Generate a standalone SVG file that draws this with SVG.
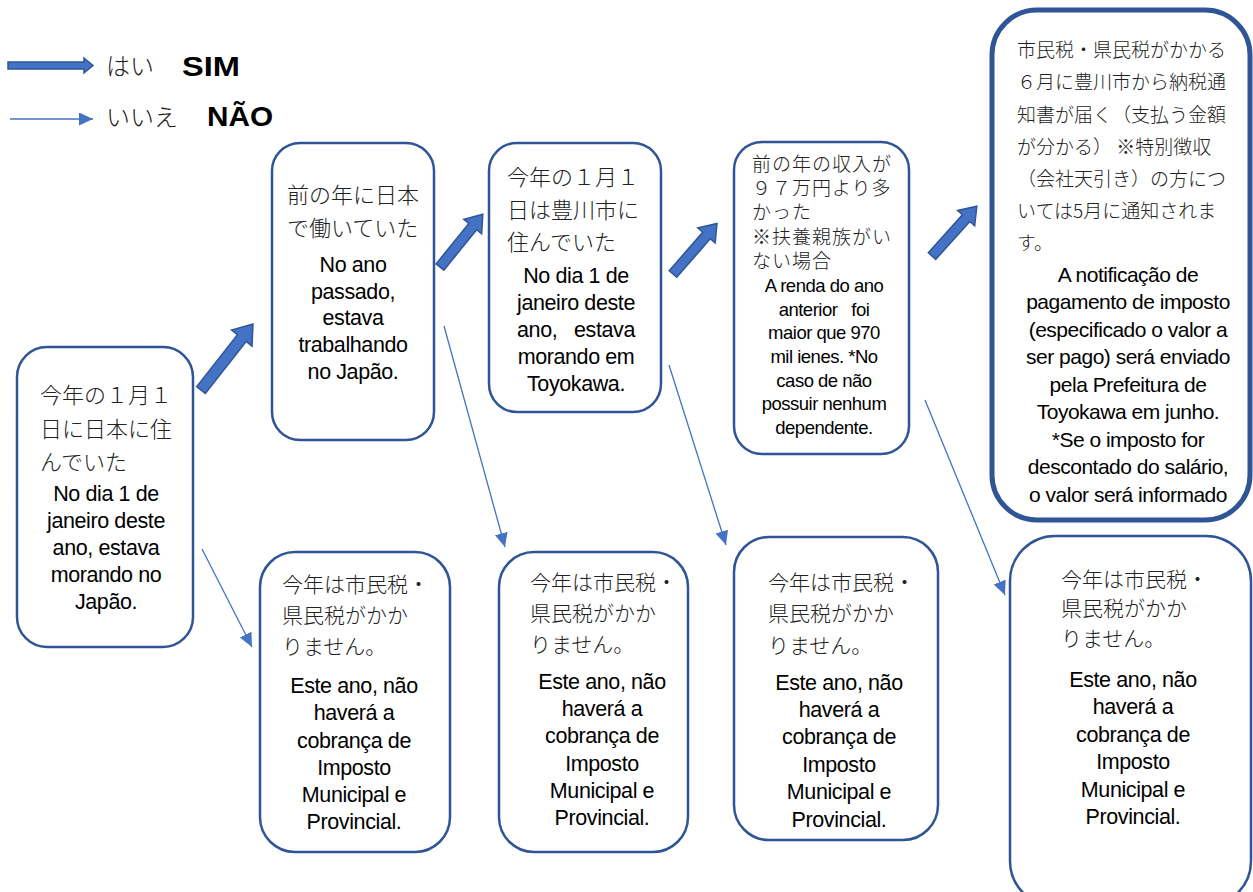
<svg xmlns="http://www.w3.org/2000/svg" width="1253" height="892" viewBox="0 0 1253 892">
<defs>
<style>
.box{fill:#fff;stroke:#2F5597;stroke-width:2.5}
.jp{font-family:"Noto Sans CJK JP",sans-serif;font-size:22px;fill:#222;font-weight:300}
.jps{font-size:19px;letter-spacing:1px}
.jpe{font-size:19px}
.jpm{font-size:21px}
.pt{font-family:"Liberation Sans",Arial,sans-serif;font-size:21.5px;fill:#000;text-anchor:middle;letter-spacing:-0.4px;white-space:pre}
.pts{font-size:18.5px;letter-spacing:-0.5px}
.pte{font-size:21px;letter-spacing:-0.5px}
.blk{fill:#4472C4;stroke:#2F5597;stroke-width:1.5}
.thin{stroke:#4472C4;stroke-width:1.3;fill:none;marker-end:url(#ah)}
.leg{font-family:"Noto Sans CJK JP",sans-serif;font-size:24px;fill:#222;font-weight:300}
.legb{font-family:"Liberation Sans",Arial,sans-serif;font-size:28px;font-weight:bold;fill:#000}
</style>
<marker id="ah" markerUnits="userSpaceOnUse" markerWidth="15" markerHeight="14" refX="14" refY="6.5" orient="auto">
<path d="M0,0 L14,6.5 L0,13 z" fill="#4472C4"/>
</marker>
</defs>
<rect width="1253" height="892" fill="#fff"/>

<g id="legend">
<polygon class="blk" points="8,62 84,62 84,58 93,65.5 84,73 84,69 8,69"/>
<text class="leg" x="106" y="75">はい</text>
<text class="legb" x="182" y="76" textLength="58" lengthAdjust="spacingAndGlyphs">SIM</text>
<line x1="10" y1="119" x2="93" y2="119" class="thin"/>
<text class="leg" x="106" y="126">いいえ</text>
<text class="legb" x="207" y="126" textLength="66" lengthAdjust="spacingAndGlyphs">NÃO</text>
</g>

<g id="connectors">
<polygon class="blk" transform="translate(201,390) rotate(-51.8)" points="0,-5.5 66,-5.5 66,-13 84,0 66,13 66,5.5 0,5.5"/>
<polygon class="blk" transform="translate(440,267) rotate(-51)" points="0,-5 52,-5 52,-11.5 68,0 52,11.5 52,5 0,5"/>
<polygon class="blk" transform="translate(673,274) rotate(-49)" points="0,-5 51,-5 51,-11.5 67,0 51,11.5 51,5 0,5"/>
<polygon class="blk" transform="translate(932,256) rotate(-48)" points="0,-5 51,-5 51,-11.5 67,0 51,11.5 51,5 0,5"/>
<line class="thin" x1="202" y1="549" x2="252" y2="647"/>
<line class="thin" x1="444" y1="326" x2="505" y2="547"/>
<line class="thin" x1="669" y1="365" x2="726" y2="545"/>
<line class="thin" x1="925" y1="400" x2="1005" y2="595"/>
</g>

<g id="nodeA">
<rect class="box" x="17" y="347" width="176" height="300" rx="30"/>
<text class="jp" x="40" y="403">今年の１月１</text>
<text class="jp" x="40" y="437">日に日本に住</text>
<text class="jp" x="40" y="470">んでいた</text>
<text class="pt" x="106" y="501">No dia 1 de</text>
<text class="pt" x="106" y="528">janeiro deste</text>
<text class="pt" x="106" y="555">ano, estava</text>
<text class="pt" x="106" y="582">morando no</text>
<text class="pt" x="106" y="609">Japão.</text>
</g>

<g id="nodeB">
<rect class="box" x="272" y="143" width="162" height="297" rx="28"/>
<text class="jp" x="287" y="203">前の年に日本</text>
<text class="jp" x="287" y="236">で働いていた</text>
<text class="pt" x="353" y="272">No ano</text>
<text class="pt" x="353" y="299">passado,</text>
<text class="pt" x="353" y="325">estava</text>
<text class="pt" x="353" y="352">trabalhando</text>
<text class="pt" x="353" y="379">no Japão.</text>
</g>

<g id="nodeC">
<rect class="box" x="489" y="143" width="172" height="269" rx="28"/>
<text class="jp" x="507" y="185">今年の１月１</text>
<text class="jp" x="507" y="218">日は豊川市に</text>
<text class="jp" x="507" y="250">住んでいた</text>
<text class="pt" x="576" y="283">No dia 1 de</text>
<text class="pt" x="576" y="310">janeiro deste</text>
<text class="pt" x="576" y="337">ano,   estava</text>
<text class="pt" x="576" y="364">morando em</text>
<text class="pt" x="576" y="391">Toyokawa.</text>
</g>

<g id="nodeD">
<rect class="box" x="734" y="142" width="175" height="312" rx="28"/>
<text class="jp jps" x="752" y="171">前の年の収入が</text>
<text class="jp jps" x="752" y="195">９７万円より多</text>
<text class="jp jps" x="752" y="219">かった</text>
<text class="jp jps" x="752" y="244">※扶養親族がい</text>
<text class="jp jps" x="752" y="268">ない場合</text>
<text class="pt pts" x="824" y="292">A renda do ano</text>
<text class="pt pts" x="824" y="316">anterior   foi</text>
<text class="pt pts" x="824" y="339">maior que 970</text>
<text class="pt pts" x="824" y="363">mil ienes. *No</text>
<text class="pt pts" x="824" y="387">caso de não</text>
<text class="pt pts" x="824" y="410">possuir nenhum</text>
<text class="pt pts" x="824" y="434">dependente.</text>
</g>

<g id="nodeE">
<rect class="box" x="992" y="10" width="258" height="510" rx="45" style="stroke-width:5"/>
<text class="jp jpe" x="1017" y="57">市民税・県民税がかかる</text>
<text class="jp jpe" x="1017" y="89">６月に豊川市から納税通</text>
<text class="jp jpe" x="1017" y="122">知書が届く（支払う金額</text>
<text class="jp jpe" x="1017" y="154">が分かる） ※特別徴収</text>
<text class="jp jpe" x="1017" y="186">（会社天引き）の方につ</text>
<text class="jp jpe" x="1017" y="218">いては5月に通知されま</text>
<text class="jp jpe" x="1017" y="250">す。</text>
<text class="pt pte" x="1128" y="282">A notificação de</text>
<text class="pt pte" x="1128" y="309">pagamento de imposto</text>
<text class="pt pte" x="1128" y="337">(especificado o valor a</text>
<text class="pt pte" x="1128" y="364">ser pago) será enviado</text>
<text class="pt pte" x="1128" y="392">pela Prefeitura de</text>
<text class="pt pte" x="1128" y="419">Toyokawa em junho.</text>
<text class="pt pte" x="1128" y="447">*Se o imposto for</text>
<text class="pt pte" x="1128" y="474">descontado do salário,</text>
<text class="pt pte" x="1128" y="502">o valor será informado</text>
</g>

<g id="nodeF">
<rect class="box" x="260" y="552" width="190" height="300" rx="35"/>
<text class="jp jpm" x="282" y="592">今年は市民税・</text>
<text class="jp jpm" x="282" y="623">県民税がかか</text>
<text class="jp jpm" x="282" y="654">りません。</text>
<text class="pt" x="354" y="693">Este ano, não</text>
<text class="pt" x="354" y="720">haverá a</text>
<text class="pt" x="354" y="748">cobrança de</text>
<text class="pt" x="354" y="775">Imposto</text>
<text class="pt" x="354" y="802">Municipal e</text>
<text class="pt" x="354" y="829">Provincial.</text>
</g>

<g id="nodeG">
<rect class="box" x="499" y="552" width="189" height="300" rx="35"/>
<text class="jp jpm" x="530" y="590">今年は市民税・</text>
<text class="jp jpm" x="530" y="621">県民税がかか</text>
<text class="jp jpm" x="530" y="652">りません。</text>
<text class="pt" x="602" y="689">Este ano, não</text>
<text class="pt" x="602" y="716">haverá a</text>
<text class="pt" x="602" y="743">cobrança de</text>
<text class="pt" x="602" y="771">Imposto</text>
<text class="pt" x="602" y="798">Municipal e</text>
<text class="pt" x="602" y="825">Provincial.</text>
</g>

<g id="nodeH">
<rect class="box" x="734" y="537" width="204" height="303" rx="35"/>
<text class="jp jpm" x="768" y="590">今年は市民税・</text>
<text class="jp jpm" x="768" y="621">県民税がかか</text>
<text class="jp jpm" x="768" y="653">りません。</text>
<text class="pt" x="839" y="690">Este ano, não</text>
<text class="pt" x="839" y="717">haverá a</text>
<text class="pt" x="839" y="744">cobrança de</text>
<text class="pt" x="839" y="772">Imposto</text>
<text class="pt" x="839" y="799">Municipal e</text>
<text class="pt" x="839" y="827">Provincial.</text>
</g>

<g id="nodeI">
<rect class="box" x="1010" y="536" width="241" height="370" rx="45"/>
<text class="jp jpm" x="1061" y="587">今年は市民税・</text>
<text class="jp jpm" x="1061" y="616">県民税がかか</text>
<text class="jp jpm" x="1061" y="646">りません。</text>
<text class="pt" x="1133" y="687">Este ano, não</text>
<text class="pt" x="1133" y="714">haverá a</text>
<text class="pt" x="1133" y="742">cobrança de</text>
<text class="pt" x="1133" y="769">Imposto</text>
<text class="pt" x="1133" y="797">Municipal e</text>
<text class="pt" x="1133" y="824">Provincial.</text>
</g>
</svg>
